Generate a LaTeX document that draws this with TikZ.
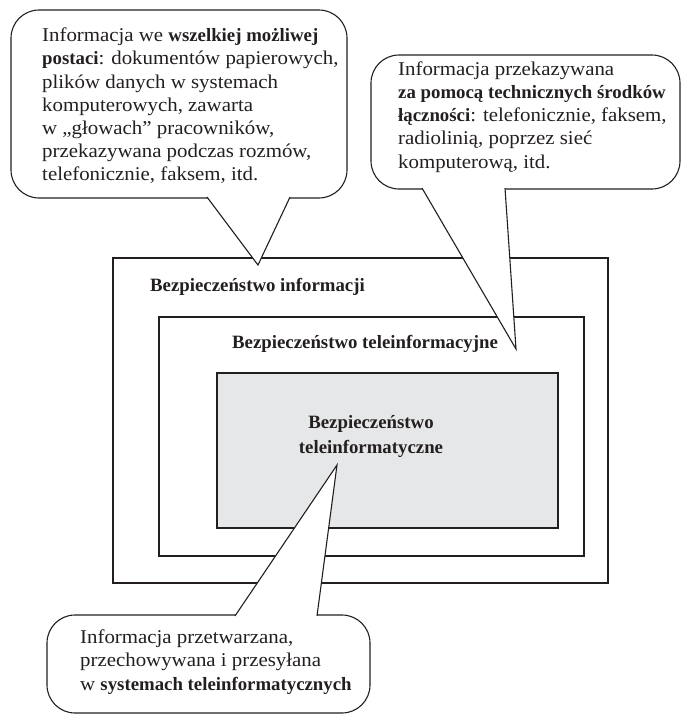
\documentclass[tikz,border=0pt]{standalone}
\usepackage{fontspec}
\setmainfont{Liberation Serif}[UprightFeatures={FakeStretch=1.07}]
\usepackage{tikz}
\usetikzlibrary{positioning}
\definecolor{Ink}{HTML}{231F20}
\definecolor{BoxGray}{HTML}{E6E7E8}
\newcommand{\bld}[1]{{\fontsize{18.8}{23.2}\selectfont\bfseries #1}}

\begin{document}
\begin{tikzpicture}[x=1pt,y=-1pt,
    area/.style={draw=Ink,inner sep=0pt},
    bubble/.style={draw=Ink,line width=1.1pt,fill=white,rounded corners=28pt,inner sep=0pt},
    tail/.style={draw=Ink,line width=1.1pt,fill=white,line join=miter},
    txt/.style={font=\fontsize{19.5}{23.2}\selectfont,align=left,inner sep=0pt,text=Ink},
    lbl/.style={font=\fontsize{18.8}{25}\selectfont\bfseries,inner sep=0pt,text=Ink}]
    \useasboundingbox (0,0) rectangle (683,715);

    \node[area,line width=2.8pt,minimum width=495pt,minimum height=325pt] (outer) at (360.5,420.5) {};
    \node[area,line width=1.5pt,minimum width=425pt,minimum height=239pt] (middle) at (371.5,436.5) {};
    \node[area,line width=1.5pt,fill=BoxGray,minimum width=341pt,minimum height=155pt] (inner) at (387.5,450.5) {};

    \node[lbl,anchor=west] (infolbl) at (150,287) {Bezpieczeństwo informacji};
    \node[lbl,anchor=west] (telelbl) at (232,344) {Bezpieczeństwo teleinformacyjne};
    \node[lbl,align=center] (ictlbl) at (371,436) {Bezpieczeństwo\\teleinformatyczne};

    \coordinate (tipA) at (258,265);
    \coordinate (tipB) at (516,349);
    \coordinate (tipC) at (337,465);

    \node[bubble,minimum width=336pt,minimum height=188pt] (bubA) at (179,104) {};
    \draw[tail] ([xshift=28pt,yshift=1.5pt]bubA.south) -- (tipA) -- ([xshift=111pt,yshift=1.5pt]bubA.south);
    \node[txt,anchor=west] (txtA) at (42,106) {Informacja we \bld{wszelkiej możliwej}\\
        \bld{postaci}: dokumentów papierowych,\\
        plików danych w systemach\\
        komputerowych, zawarta\\
        w „głowach” pracowników,\\
        przekazywana podczas rozmów,\\
        telefonicznie, faksem, itd.};

    \node[bubble,minimum width=309pt,minimum height=134pt] (bubB) at (525.5,122) {};
    \draw[tail] ([xshift=-103.5pt,yshift=1.5pt]bubB.south) -- (tipB) -- ([xshift=-20.5pt,yshift=1.5pt]bubB.south);
    \node[txt,anchor=west] (txtB) at (398,117) {Informacja przekazywana\\
        \bld{za pomocą technicznych środków}\\
        \bld{łączności}: telefonicznie, faksem,\\
        radiolinią, poprzez sieć\\
        komputerową, itd.};

    \node[bubble,minimum width=323pt,minimum height=98pt] (bubC) at (208.5,664) {};
    \draw[tail] ([xshift=26.5pt,yshift=-1.5pt]bubC.north) -- (tipC) -- ([xshift=108.5pt,yshift=-1.5pt]bubC.north);
    \node[txt,anchor=west] (txtC) at (80,662) {Informacja przetwarzana,\\
        przechowywana i przesyłana\\
        w \bld{systemach teleinformatycznych}};
\end{tikzpicture}
\end{document}
